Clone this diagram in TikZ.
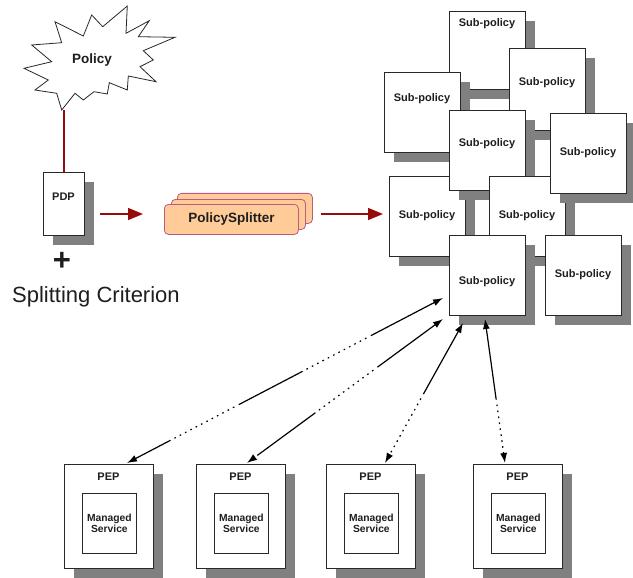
\documentclass[tikz,border=0pt]{standalone}
\usepackage{fontspec}
\setmainfont{Liberation Sans}
\usetikzlibrary{shadows,arrows.meta,calc}
\definecolor{ink}{RGB}{30,30,30}
\definecolor{edge}{RGB}{40,40,40}
\definecolor{shade}{RGB}{128,128,128}
\definecolor{darkred}{RGB}{150,12,12}
\definecolor{peach}{RGB}{255,204,153}
\definecolor{plum}{RGB}{190,90,130}
\begin{document}
\begin{tikzpicture}[x=1pt,y=-1pt,
  card/.style={draw=edge, line width=0.8pt, fill=white, anchor=north west,
    inner sep=0pt, outer sep=0pt,
    drop shadow={shadow xshift=10pt, shadow yshift=-10pt, fill=shade, opacity=1}},
  subbox/.style={card, minimum width=76pt, minimum height=80pt},
  lbl/.style={font=\bfseries\fontsize{11}{12}\selectfont, text=ink, inner sep=0pt},
  inner/.style={draw=edge, line width=0.8pt, fill=white, anchor=north west,
    inner sep=0pt, minimum width=54pt, minimum height=60pt, align=center,
    font=\bfseries\fontsize{10.3}{11.8}\selectfont, text=ink},
  splitter/.style={draw=plum, fill=peach, line width=0.8pt, rounded corners=4pt,
    anchor=north west, inner sep=0pt, minimum height=30pt},
  redline/.style={draw=darkred, line width=1.5pt},
  redarrow/.style={redline, -{Triangle[length=15pt,width=12pt]}, fill=darkred},
  dotrun/.style={dash pattern=on 72pt off 5pt on 1.6pt off 4.4pt on 1.6pt off 4.4pt
    on 1.6pt off 4.4pt on 1.6pt off 4.4pt on 1.6pt off 4.4pt on 1.6pt off 4.4pt
    on 1.6pt off 4.4pt on 1.6pt off 4.4pt on 1.6pt off 4.4pt on 1.6pt off 4.4pt
    on 1.6pt off 4.4pt on 1.6pt off 4.4pt},
  link/.style={color=black, line width=1.2pt, dotrun,
    {Latex[length=10pt,width=7pt]}-{Latex[length=10pt,width=7pt]}}
]
\useasboundingbox (0,0) rectangle (633,578);

% the policy burst
\draw[edge, line width=0.8pt, fill=white]
  (127.3,6) -- (126,33.3) -- (149.3,20.7) -- (138.3,36.7) -- (175,37.3)
  -- (143.3,50.7) -- (153.3,60) -- (140,66.7) -- (156,81.7) -- (128.3,76)
  -- (127.3,90) -- (109.3,82.7) -- (107.3,94) -- (94,91.7) -- (83.3,100)
  -- (75,93.3) -- (61.7,110) -- (56.7,93.3) -- (35,90) -- (48.3,80)
  -- (24,68.3) -- (51.7,61.7) -- (31.7,45) -- (61.7,42.7) -- (55,21.7)
  -- (83.3,36) -- (91.7,15) -- (102.7,26.7) -- cycle;
\node[font=\bfseries\fontsize{13.5}{15}\selectfont, text=ink, inner sep=0pt] (policy) at (92,60) {Policy};
\coordinate (burstTip) at (63.5,110.5);

% decision point
\node[card, minimum width=41pt, minimum height=63pt] (pdp) at (43,172) {};
\node[lbl] (pdpl) at (63.5,197) {PDP};
\draw[draw=darkred, line width=2pt] (burstTip) -- (burstTip |- pdp.north);

\node[font=\bfseries\fontsize{31}{31}\selectfont, text=ink, inner sep=0pt] (plus) at (62,261) {+};
\node[anchor=base west, font=\fontsize{22}{26}\selectfont, text=ink, inner sep=0pt] (crit) at (12,302) {Splitting Criterion};

% splitter stack
\node[splitter, minimum width=135pt] (psB) at (177,193) {};
\node[splitter, minimum width=134pt] (psM) at (171,199) {};
\node[splitter, minimum width=134pt, font=\bfseries\fontsize{13.5}{15}\selectfont, text=ink] (psF) at (164,204) {PolicySplitter};

% sub-policies
\node[subbox, minimum height=78pt] (s1) at (449,11) {};
\node[lbl] (s1l) at (487,24) {Sub-policy};
\node[subbox, minimum height=82pt] (s2) at (509,48) {};
\node[lbl] (s2l) at (547,83) {Sub-policy};
\node[subbox] (s3) at (384,72) {};
\node[lbl] (s3l) at (422,99) {Sub-policy};
\node[subbox] (s4) at (389,176) {};
\node[lbl] (s4l) at (427,216) {Sub-policy};
\node[subbox] (s5) at (449,110) {};
\node[lbl] (s5l) at (487,144) {Sub-policy};
\node[subbox] (s6) at (489,176) {};
\node[lbl] (s6l) at (527,216) {Sub-policy};
\node[subbox] (s7) at (550,113) {};
\node[lbl] (s7l) at (588,153) {Sub-policy};
\node[subbox] (s8) at (449,235) {};
\node[lbl] (s8l) at (487,282) {Sub-policy};
\node[subbox] (s9) at (545,235) {};
\node[lbl] (s9l) at (583,275) {Sub-policy};

% flow arrows
\draw[redarrow] ($(pdp.north east)+(16,42)$) -- ($(psF.north west)+(-21,10)$);
\draw[redarrow] ($(psB.north east)+(8,21)$) -- ($(s4.north west)+(-6,38)$);

% enforcement points
\foreach \x/\n in {64/1,196/2,326/3,473/4}{
  \node[card, minimum width=89pt, minimum height=104pt] (pep\n) at (\x,464) {};
  \node[lbl] (pepl\n) at ({\x+44.5},477) {PEP};
  \node[inner] (ms\n) at ({\x+18},493) {Managed\\Service};
}

% distribution links
\draw[link] ($(s8.south west)+(-6,-17)$) -- ($(pep1.north west)+(63,-1)$);
\draw[link] ($(s8.south west)+(-6,4)$) -- ($(pep2.north west)+(51,-1)$);
\draw[link] ($(s8.south west)+(14,8)$) -- ($(pep3.north west)+(59,-1)$);
\draw[link] ($(s8.south west)+(36,4)$) -- ($(pep4.north west)+(32,-1)$);
\end{tikzpicture}
\end{document}
